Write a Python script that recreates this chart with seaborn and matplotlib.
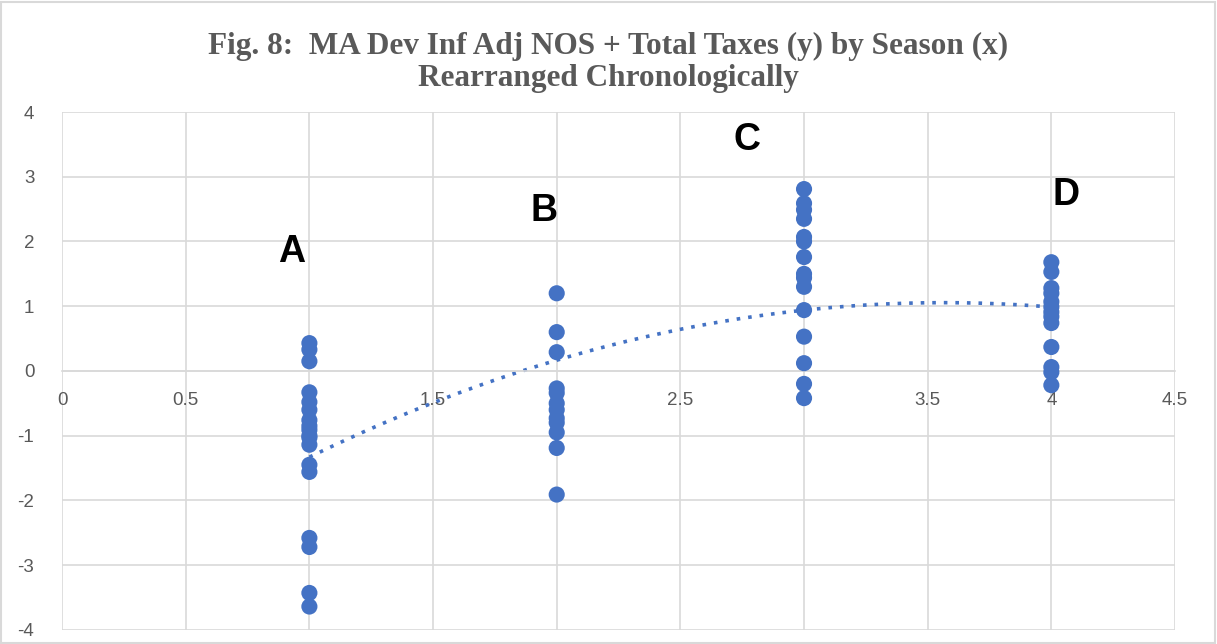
import numpy as np
import pandas as pd
import matplotlib.pyplot as plt
import seaborn as sns
from matplotlib.patches import Rectangle

# values, one list per season
season_a = [0.43, 0.33, 0.15, -0.33, -0.48, -0.6, -0.76, -0.85, -0.91, -1.0,
            -1.03, -1.14, -1.45, -1.56, -2.58, -2.72, -3.43, -3.64]
season_b = [1.2, 0.6, 0.29, -0.27, -0.34, -0.5, -0.6, -0.73, -0.8, -0.95,
            -1.19, -1.91]
season_c = [2.81, 2.59, 2.49, 2.35, 2.07, 2.0, 1.76, 1.5, 1.44, 1.3, 0.94,
            0.53, 0.12, -0.2, -0.42]
season_d = [1.68, 1.53, 1.28, 1.2, 1.07, 0.99, 0.91, 0.84, 0.74, 0.37, 0.06,
            -0.02, -0.22]

season_x = [1, 2, 3, 4]
season_names = ["A", "B", "C", "D"]
label_x = [0.93, 1.95, 2.77, 4.06]
label_y = [1.84, 2.47, 3.57, 2.72]

x_ticks = [0, 0.5, 1, 1.5, 2, 2.5, 3, 3.5, 4, 4.5]
y_ticks = [-4, -3, -2, -1, 0, 1, 2, 3, 4]

title = "Fig. 8:  MA Dev Inf Adj NOS + Total Taxes (y) by Season (x)\nRearranged Chronologically"

# build long table
rows = []
for sx, vals in zip(season_x, [season_a, season_b, season_c, season_d]):
    for v in vals:
        rows.append({"season": sx, "value": v})
data = pd.DataFrame(rows)

sns.set_style("white")
plt.rcParams['font.family'] = ['Liberation Sans', 'DejaVu Sans']

blue = "#4472C4"
grey_txt = "#595959"
grid_col = "#d9d9d9"

fig = plt.figure(figsize=(12.17, 6.44), dpi=100)
ax = fig.add_axes([0.051, 0.022, 0.9145, 0.804])

sns.scatterplot(data=data, x="season", y="value", color=blue, s=135,
                edgecolor="none", linewidth=0, ax=ax, zorder=3)

# 2nd order polynomial trendline
coef = np.polyfit(data["season"], data["value"], 2)
xs = np.linspace(1, 4, 200)
ax.plot(xs, np.polyval(coef, xs), color=blue, linestyle=(0, (1, 2.2)),
        linewidth=2.6, zorder=2)

for name, lx, ly in zip(season_names, label_x, label_y):
    ax.text(lx, ly, name, fontsize=27, fontweight="bold", color="black",
            ha="center", va="center")

ax.set_xlim(0, 4.5)
ax.set_ylim(-4, 4)
ax.set_xticks(x_ticks)
ax.set_yticks(y_ticks)
ax.set_xticklabels([f"{t:g}" for t in x_ticks])
ax.set_yticklabels([f"{t:g}" for t in y_ticks])
ax.grid(True, color=grid_col, linewidth=1.2)
ax.set_axisbelow(True)
ax.set_xlabel("")
ax.set_ylabel("")

for side in ["top", "right", "left"]:
    ax.spines[side].set_visible(False)
ax.spines["bottom"].set_position(("data", 0))
ax.spines["bottom"].set_color(grid_col)
ax.spines["bottom"].set_linewidth(1.2)
ax.tick_params(axis="both", length=0, labelsize=13.5, colors=grey_txt)
ax.tick_params(axis="x", pad=15)
ax.tick_params(axis="y", pad=20)

fig.text(0.5, 0.903, title, ha="center", va="center", fontsize=22.5,
         fontweight="bold", color=grey_txt, family="Liberation Serif",
         linespacing=1.13)

fig.patches.append(Rectangle((0.001, 0.002), 0.997, 0.995,
                             transform=fig.transFigure, fill=False,
                             edgecolor=grid_col, linewidth=1.5))

fig.savefig("out.png", dpi=100)
